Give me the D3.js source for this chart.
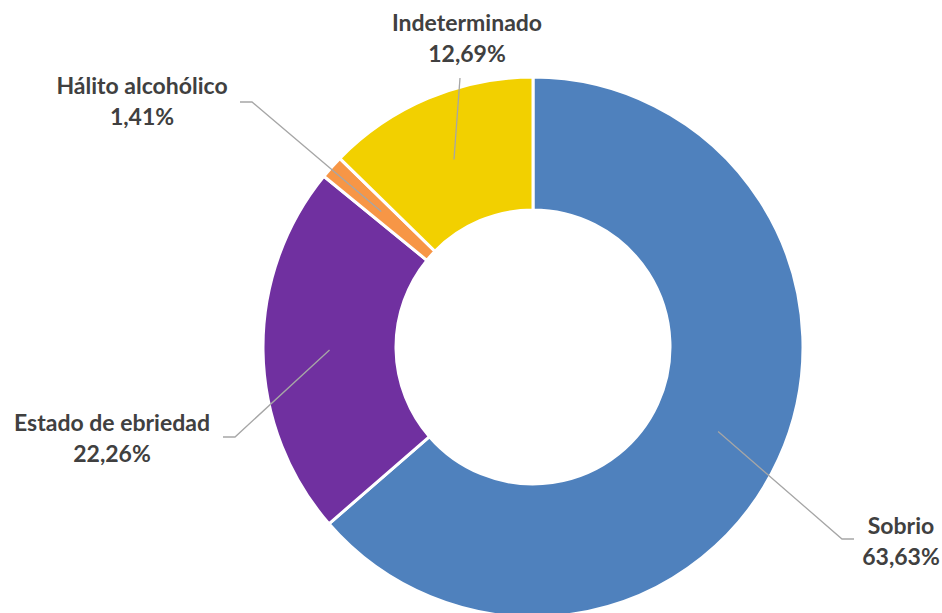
<!DOCTYPE html>
<html>
<head>
<meta charset="utf-8">
<script src="https://cdn.jsdelivr.net/npm/d3@7"></script>
<style>
  body { margin: 0; background: #fff; }
  text { font-family: Lato, "Open Sans", sans-serif; font-weight: bold; fill: #404040; }
</style>
</head>
<body>
<svg id="chart"></svg>
<script>
// Data
const categories = ["Sobrio", "Estado de ebriedad", "Hálito alcohólico", "Indeterminado"];
const values = [63.63, 22.26, 1.41, 12.69];
const valueLabels = ["63,63%", "22,26%", "1,41%", "12,69%"];
const colors = ["#4F81BD", "#7030A0", "#F79646", "#F2D000"];

// Label layout: text centre, and leader line elbow/end
const labelPos = [
    { x: 901, y: 526, elbow: [842, 539], end: [854, 539] },
    { x: 112, y: 423, elbow: [235, 437], end: [223, 437] },
    { x: 142, y: 86, elbow: [252, 102], end: [240, 102] },
    { x: 467, y: 23, elbow: null, end: [460, 78] }
];

const width = 942;
const height = 613;
const cx = 533, cy = 347;
const outerR = 270, innerR = 137;

const svg = d3.select("#chart")
    .attr("width", width)
    .attr("height", height);

const g = svg.append("g").attr("transform", `translate(${cx},${cy})`);

const pie = d3.pie().sort(null).value(d => d)(values);
const arc = d3.arc().innerRadius(innerR).outerRadius(outerR);

// Slices
g.selectAll(".slice")
    .data(pie)
    .enter()
    .append("path")
    .attr("class", "slice")
    .attr("d", arc)
    .attr("fill", (d, i) => colors[i])
    .attr("stroke", "#fff")
    .attr("stroke-width", 3);

// Leader lines
g.selectAll(".leader")
    .data(pie)
    .enter()
    .append("polyline")
    .attr("class", "leader")
    .attr("fill", "none")
    .attr("stroke", "#A6A6A6")
    .attr("stroke-width", 1.3)
    .attr("points", (d, i) => {
        const c = arc.centroid(d);
        const p = labelPos[i];
        const pts = [c];
        if (p.elbow) pts.push([p.elbow[0] - cx, p.elbow[1] - cy]);
        pts.push([p.end[0] - cx, p.end[1] - cy]);
        return pts.map(q => q.join(",")).join(" ");
    });

// Labels
const labels = svg.selectAll(".label")
    .data(categories)
    .enter()
    .append("text")
    .attr("class", "label")
    .attr("text-anchor", "middle")
    .style("font-size", "23px");

labels.append("tspan")
    .attr("x", (d, i) => labelPos[i].x)
    .attr("y", (d, i) => labelPos[i].y)
    .attr("dy", "0.35em")
    .text(d => d);

labels.append("tspan")
    .attr("x", (d, i) => labelPos[i].x)
    .attr("y", (d, i) => labelPos[i].y + 31)
    .attr("dy", "0.35em")
    .text((d, i) => valueLabels[i]);
</script>
</body>
</html>
